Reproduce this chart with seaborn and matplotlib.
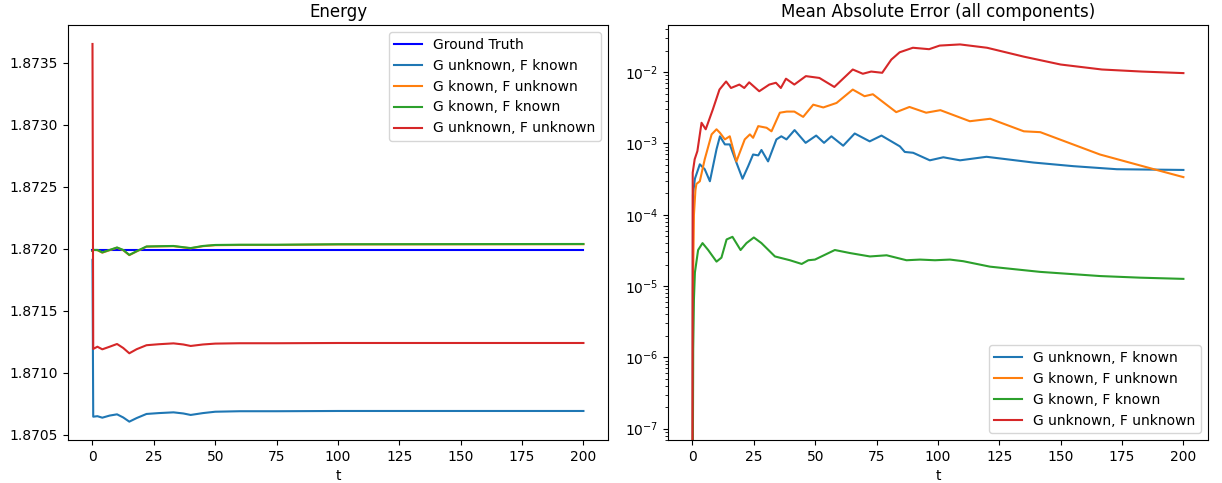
import matplotlib
matplotlib.use("Agg")
import matplotlib.pyplot as plt
import seaborn as sns
import numpy as np

# ---------------- Energy panel data ----------------
t_energy = [0, 0.3, 2, 4, 7, 10, 12.5, 15, 18, 22, 27, 33, 37, 40, 45, 50, 60, 75, 100, 150, 200]
energy_truth = [1.87199] * len(t_energy)
energy_gu_fk = [1.87191, 1.870646, 1.870650, 1.870638, 1.870655, 1.870665, 1.870640, 1.870606,
                1.870635, 1.870668, 1.870675, 1.870681, 1.870672, 1.870660, 1.870675, 1.870686,
                1.870690, 1.870690, 1.870692, 1.870692, 1.870692]
energy_gk_fu = [1.87198, 1.87199, 1.871988, 1.871968, 1.871988, 1.872008, 1.871988, 1.871948,
                1.871978, 1.872016, 1.872018, 1.872020, 1.872010, 1.872003, 1.872020, 1.872028,
                1.872030, 1.872030, 1.872034, 1.872035, 1.872036]
energy_gk_fk = [1.87198, 1.87199, 1.871990, 1.871970, 1.871990, 1.872010, 1.871990, 1.871950,
                1.871980, 1.872018, 1.872020, 1.872022, 1.872012, 1.872005, 1.872022, 1.872030,
                1.872032, 1.872032, 1.872036, 1.872037, 1.872038]
energy_gu_fu = [1.87365, 1.871192, 1.871210, 1.871189, 1.871210, 1.871232, 1.871200, 1.871157,
                1.871190, 1.871222, 1.871230, 1.871237, 1.871228, 1.871216, 1.871228, 1.871235,
                1.871238, 1.871238, 1.871240, 1.871240, 1.871240]

# ---------------- MAE panel data ----------------
t_mae_gu_fk = [0, 0.2, 1.0, 3.0, 5.0, 7.1, 9.8, 11.2, 13.2, 15.2, 17.9, 20.4, 22.7, 24.7, 26.8, 28.1,
               30.8, 34.2, 36.2, 38.3, 41.6, 46.1, 50.4, 53.6, 56.6, 61.4, 66.1, 72.2, 77, 84.5,
               86.5, 89.9, 96.7, 102.2, 109, 119.8, 138.9, 155.2, 172.9, 200]
mae_gu_fk = [1e-9, 1.9e-4, 3.2e-4, 5.1e-4, 4.35e-4, 2.95e-4, 8.3e-4, 1.26e-3, 9.7e-4, 9.7e-4, 5.4e-4,
             3.2e-4, 4.8e-4, 7.0e-4, 6.8e-4, 8.1e-4, 5.6e-4, 1.14e-3, 1.26e-3, 1.14e-3, 1.54e-3,
             1.02e-3, 1.29e-3, 1.02e-3, 1.26e-3, 9.3e-4, 1.38e-3, 1.07e-3, 1.29e-3, 9.1e-4,
             7.6e-4, 7.4e-4, 5.8e-4, 6.4e-4, 5.8e-4, 6.5e-4, 5.4e-4, 4.8e-4, 4.35e-4, 4.25e-4]

t_mae_gk_fu = [0, 0.2, 0.6, 1.2, 1.6, 3.0, 5.0, 7.8, 9.8, 11.2, 13.2, 15.2, 17.9, 21.3, 23.4, 24.7,
               26.8, 30.2, 32.2, 35.6, 38.4, 41.5, 45.1, 49.2, 53.3, 58.7, 65.3, 70.1, 73.5, 83,
               88.4, 95.2, 101, 113, 121.3, 135, 141.7, 166, 188, 200]
mae_gk_fu = [1e-9, 8.9e-6, 1e-4, 2.2e-4, 2.7e-4, 2.95e-4, 6.0e-4, 1.34e-3, 1.58e-3, 1.41e-3, 1.14e-3,
             1.26e-3, 5.6e-4, 1.14e-3, 1.34e-3, 1.2e-3, 1.75e-3, 1.66e-3, 1.48e-3, 2.7e-3, 2.8e-3,
             2.8e-3, 2.36e-3, 3.5e-3, 3.2e-3, 3.7e-3, 5.7e-3, 4.6e-3, 4.9e-3, 2.75e-3, 3.25e-3,
             2.7e-3, 2.93e-3, 2.05e-3, 2.22e-3, 1.48e-3, 1.44e-3, 7.0e-4, 4.35e-4, 3.37e-4]

t_mae_gk_fk = [0, 0.3, 0.6, 1.0, 2.3, 4.1, 6.4, 9.8, 11.8, 13.9, 16.3, 19.6, 22, 25, 28.1, 33.6, 39.7,
               44.5, 47.2, 49.9, 58, 64.2, 72.3, 79.1, 87.2, 92.7, 98.8, 104.9, 110.3, 121.2,
               141.6, 166.1, 182.4, 200]
mae_gk_fk = [1e-9, 1.3e-6, 6.5e-6, 1.55e-5, 3.2e-5, 4.0e-5, 3.2e-5, 2.2e-5, 2.5e-5, 4.5e-5, 4.9e-5,
             3.2e-5, 4.0e-5, 4.8e-5, 4.0e-5, 2.6e-5, 2.3e-5, 2.04e-5, 2.3e-5, 2.35e-5, 3.2e-5,
             2.9e-5, 2.6e-5, 2.7e-5, 2.3e-5, 2.35e-5, 2.3e-5, 2.35e-5, 2.23e-5, 1.87e-5,
             1.58e-5, 1.38e-5, 1.31e-5, 1.26e-5]

t_mae_gu_fu = [0, 0.1, 0.9, 2.0, 3.7, 5.4, 8.3, 11, 13.7, 15.7, 19.1, 21.1, 23.1, 27.2, 31.3, 34, 36,
               38.1, 41.5, 46.2, 51.7, 57.8, 65.3, 69.4, 72.8, 77.3, 81, 84.4, 89.8, 96.4, 100.7,
               109, 120, 135, 150, 166.8, 183, 200]
mae_gu_fu = [1e-9, 3.9e-4, 6.0e-4, 7.8e-4, 1.95e-3, 1.58e-3, 3.0e-3, 5.7e-3, 7.4e-3, 6.0e-3, 6.7e-3,
             6.0e-3, 7.2e-3, 5.4e-3, 6.7e-3, 7.1e-3, 6.0e-3, 8.1e-3, 6.7e-3, 8.8e-3, 8.3e-3,
             6.2e-3, 1.09e-2, 9.5e-3, 1.02e-2, 9.8e-3, 1.5e-2, 1.9e-2, 2.2e-2, 2.1e-2, 2.36e-2,
             2.45e-2, 2.2e-2, 1.65e-2, 1.28e-2, 1.09e-2, 1.02e-2, 9.7e-3]

labels = ["G unknown, F known", "G known, F unknown", "G known, F known", "G unknown, F unknown"]
colors = ["tab:blue", "tab:orange", "tab:green", "tab:red"]

fig, (ax1, ax2) = plt.subplots(1, 2, figsize=(12.22, 4.83), dpi=100)
fig.subplots_adjust(left=0.0556, right=0.9885, top=0.948, bottom=0.089, wspace=0.111)

# Energy
sns.lineplot(x=t_energy, y=energy_truth, ax=ax1, color="blue", label="Ground Truth")
for ys, lab, c in zip([energy_gu_fk, energy_gk_fu, energy_gk_fk, energy_gu_fu], labels, colors):
    sns.lineplot(x=t_energy, y=ys, ax=ax1, color=c, label=lab)
ax1.set_title("Energy")
ax1.set_xlabel("t")
ax1.set_ylim(1.870458, 1.873802)
ax1.set_xlim(-10, 210)
ax1.ticklabel_format(axis="y", useOffset=False)
ax1.legend(loc="upper right")

# MAE
for tt, ys, lab, c in zip([t_mae_gu_fk, t_mae_gk_fu, t_mae_gk_fk, t_mae_gu_fu],
                          [mae_gu_fk, mae_gk_fu, mae_gk_fk, mae_gu_fu], labels, colors):
    sns.lineplot(x=tt, y=ys, ax=ax2, color=c, label=lab)
ax2.set_yscale("log")
ax2.set_ylim(10 ** -7.16, 10 ** -1.34)
ax2.set_xlim(-10, 210)
ax2.set_title("Mean Absolute Error (all components)")
ax2.set_xlabel("t")
ax2.legend(loc="lower right")

fig.savefig("out.png", dpi=100)
